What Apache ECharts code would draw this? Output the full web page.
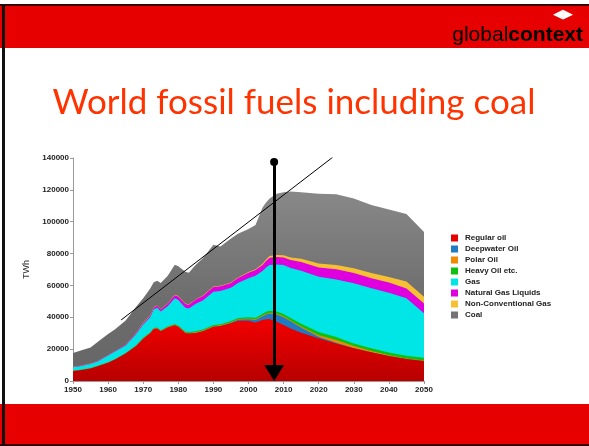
<!DOCTYPE html>
<html>
<head>
<meta charset="utf-8">
<script src="https://cdn.jsdelivr.net/npm/echarts@6/dist/echarts.min.js"></script>
<style>
  html, body { margin: 0; padding: 0; background: #fff; }
  #main { width: 589px; height: 446px; }
</style>
</head>
<body>
<div id="main"></div>
<script>
// years (TWh values)
const years = [1950, 1952, 1955, 1957, 1960, 1962, 1965, 1968, 1970, 1972, 1973, 1974, 1975, 1977, 1979, 1980,
  1982, 1983, 1985, 1987, 1990, 1992, 1995, 1997, 2000, 2002, 2004, 2005, 2006, 2008, 2010, 2012,
  2015, 2020, 2025, 2030, 2035, 2040, 2045, 2050];

const regularOil = [6300, 6800, 7900, 9300, 11500, 13500, 17200, 22000, 26500, 30000, 32700, 33000, 31200, 33600, 35000, 34000,
  30200, 29800, 30200, 31300, 34000, 34500, 36200, 37900, 37900, 36800, 38300, 38700, 38900, 37200, 35100, 33000,
  30300, 26800, 23600, 20500, 18000, 15700, 13800, 12600];
const deepwaterOil = [0, 0, 0, 0, 0, 0, 0, 0, 0, 0, 0, 0, 0, 0, 0, 0,
  0, 0, 0, 0, 0, 100, 300, 500, 800, 1500, 2300, 3000, 3500, 4500, 5000, 4500,
  3300, 1000, 400, 200, 0, 0, 0, 0];
const polarOil = [100, 100, 100, 100, 200, 200, 200, 300, 300, 300, 300, 300, 300, 300, 400, 400,
  400, 400, 400, 400, 400, 400, 400, 400, 400, 400, 500, 500, 500, 500, 500, 500,
  600, 1000, 1700, 1200, 900, 500, 400, 300];
const heavyOil = [100, 100, 100, 100, 100, 100, 200, 200, 300, 300, 300, 300, 300, 400, 400, 500,
  500, 500, 600, 600, 700, 700, 800, 800, 900, 1000, 1100, 1200, 1200, 1400, 1500, 1600,
  1800, 2000, 2000, 1700, 1700, 1700, 1700, 1700];
const gas = [2100, 2300, 2600, 2800, 4200, 4700, 4700, 7000, 8400, 9400, 11700, 12400, 11900, 12700, 16200, 15900,
  14900, 14800, 17300, 18200, 20900, 20800, 20800, 21900, 24500, 26300, 26800, 27900, 28700, 29600, 30700, 31400,
  33200, 34700, 36100, 37700, 37600, 37500, 36100, 27900];
const ngl = [200, 200, 200, 200, 300, 300, 400, 600, 800, 1000, 1200, 1200, 1200, 1500, 1800, 2200,
  2400, 2400, 2600, 2800, 3000, 3000, 3100, 3200, 3500, 3700, 3800, 4000, 4500, 4600, 4800, 5000,
  5500, 5800, 6300, 6500, 6300, 6500, 6000, 6200];
const nonConvGas = [100, 100, 100, 100, 100, 100, 100, 200, 200, 200, 200, 200, 200, 200, 300, 300,
  300, 300, 300, 300, 300, 300, 300, 300, 400, 500, 800, 1000, 1200, 1300, 1400, 1600,
  2000, 2500, 2700, 3000, 3300, 3400, 4500, 4200];
const coal = [8700, 9400, 10000, 11900, 13100, 13600, 15200, 16300, 15500, 16800, 15600, 15600, 16400, 17300, 18900, 18700,
  19900, 19800, 21600, 23400, 26200, 24700, 27600, 27500, 27100, 27800, 35400, 35700, 36000, 38400, 39500, 41400,
  41800, 43700, 44400, 43800, 42700, 42400, 42300, 40600];

const seriesNames = ['Regular oil', 'Deepwater Oil', 'Polar Oil', 'Heavy Oil etc.', 'Gas',
  'Natural Gas Liquids', 'Non-Conventional Gas', 'Coal'];
const seriesValues = [regularOil, deepwaterOil, polarOil, heavyOil, gas, ngl, nonConvGas, coal];

// annotation lines drawn on the chart
const trendLine = [[1963.7, 38300], [2024, 140500]];
const arrowYear = 2007.3;
const arrowTop = 137500;
const arrowEnd = 5000;   // centre of the arrow head, so its tip sits on the axis

const yTicks = [0, 20000, 40000, 60000, 80000, 100000, 120000, 140000];

const colors = ['#e60000', '#1f7bc2', '#f28a00', '#10c010', '#00e6e6', '#de00de', '#f6c034', '#747474'];
const areaFills = [
  {type: 'linear', x: 0, y: 0, x2: 0, y2: 1, colorStops: [{offset: 0, color: '#f20000'}, {offset: 1, color: '#b80000'}]},
  '#1f7bc2', '#f28a00', '#10c010', '#00e6e6', '#de00de', '#f6c034',
  {type: 'linear', x: 0, y: 0, x2: 0, y2: 1, colorStops: [{offset: 0, color: '#888888'}, {offset: 0.6, color: '#6c6c6c'}, {offset: 1, color: '#666666'}]}
];

const font = 'Liberation Sans, Arial, sans-serif';

// running totals: each band is filled down to the axis, drawn from the top layer down
const cumulative = [];
seriesValues.forEach((vals, i) => {
  cumulative.push(vals.map((v, j) => v + (i > 0 ? cumulative[i - 1][j] : 0)));
});

const series = seriesNames.map((name, i) => ({
  name: name,
  type: 'line',
  showSymbol: false,
  silent: true,
  color: colors[i],
  z: 2 + (seriesNames.length - i) * 0.01,
  lineStyle: {width: 0, opacity: 0},
  areaStyle: {color: areaFills[i], opacity: 1, origin: 'start'},
  data: years.map((y, j) => [y, cumulative[i][j]])
})).reverse();

series.push({
  name: 'trend',
  type: 'line',
  showSymbol: false,
  silent: true,
  lineStyle: {color: '#000', width: 1},
  data: trendLine,
  z: 5,
  markLine: {
    silent: true,
    label: {show: false},
    lineStyle: {color: '#000', width: 3, type: 'solid'},
    itemStyle: {color: '#000'},
    data: [[
      {coord: [arrowYear, arrowTop], symbol: 'circle', symbolSize: 8},
      {coord: [arrowYear, arrowEnd], symbol: 'triangle', symbolSize: [20, 16]}
    ]]
  }
});

const chart = echarts.init(document.getElementById('main'));
chart.setOption({
  animation: false,
  backgroundColor: '#fff',
  grid: {left: 73, right: 165, top: 158, bottom: 65},
  legend: {
    orient: 'vertical',
    left: 446,
    top: 229,
    icon: 'rect',
    itemWidth: 7,
    itemHeight: 7,
    itemGap: 3,
    data: seriesNames,
    selectedMode: false,
    textStyle: {fontFamily: font, fontSize: 8, fontWeight: 'bold', color: '#222', padding: [0, 0, 0, 2]}
  },
  xAxis: {
    type: 'value',
    min: 1950,
    max: 2050,
    interval: 10,
    splitLine: {show: false},
    axisLine: {lineStyle: {color: '#999'}},
    axisTick: {length: 3, lineStyle: {color: '#999'}},
    axisLabel: {fontFamily: font, fontSize: 8, fontWeight: 'bold', color: '#222', margin: 5,
      formatter: v => String(v)}
  },
  yAxis: {
    type: 'value',
    min: yTicks[0],
    max: yTicks[yTicks.length - 1],
    interval: yTicks[1] - yTicks[0],
    name: 'TWh',
    nameLocation: 'middle',
    nameGap: 37,
    nameTextStyle: {fontFamily: font, fontSize: 9, color: '#333'},
    splitLine: {show: false},
    axisLine: {show: true, lineStyle: {color: '#999'}},
    axisTick: {show: true, length: 3, lineStyle: {color: '#999'}},
    axisLabel: {fontFamily: font, fontSize: 8, fontWeight: 'bold', color: '#222', margin: 4,
      formatter: v => String(v)}
  },
  graphic: [
    {type: 'rect', x: 0, y: 4, shape: {width: 589, height: 2}, style: {fill: '#3a0000'}},
    {type: 'rect', x: 0, y: 6, shape: {width: 589, height: 42}, style: {fill: '#e60000'}},
    {type: 'rect', x: 0, y: 404, shape: {width: 589, height: 40}, style: {fill: '#e60000'}},
    {type: 'rect', x: 0, y: 444, shape: {width: 589, height: 2}, style: {fill: '#3a0000'}},
    {type: 'rect', x: 2, y: 4, shape: {width: 3, height: 442}, style: {fill: '#111'}},
    {
      type: 'text', right: 6, top: 25,
      style: {
        text: '{a|global}{b|context}',
        rich: {
          a: {fontFamily: font, fontSize: 21, color: '#fff'},
          b: {fontFamily: font, fontSize: 21, fontWeight: 'bold', color: '#fff'}
        }
      }
    },
    {type: 'text', x: 553, y: 8, style: {text: '\u25C0\u25B6', fontFamily: 'DejaVu Sans', fontSize: 13, fill: '#fff'}},
    {
      type: 'text', x: 294, y: 103,
      style: {
        text: 'World fossil fuels including coal',
        fontFamily: 'Lato, Open Sans, sans-serif', fontSize: 35,
        fill: '#ff3300', align: 'center', verticalAlign: 'middle'
      }
    }
  ],
  series: series
});
</script>
</body>
</html>
